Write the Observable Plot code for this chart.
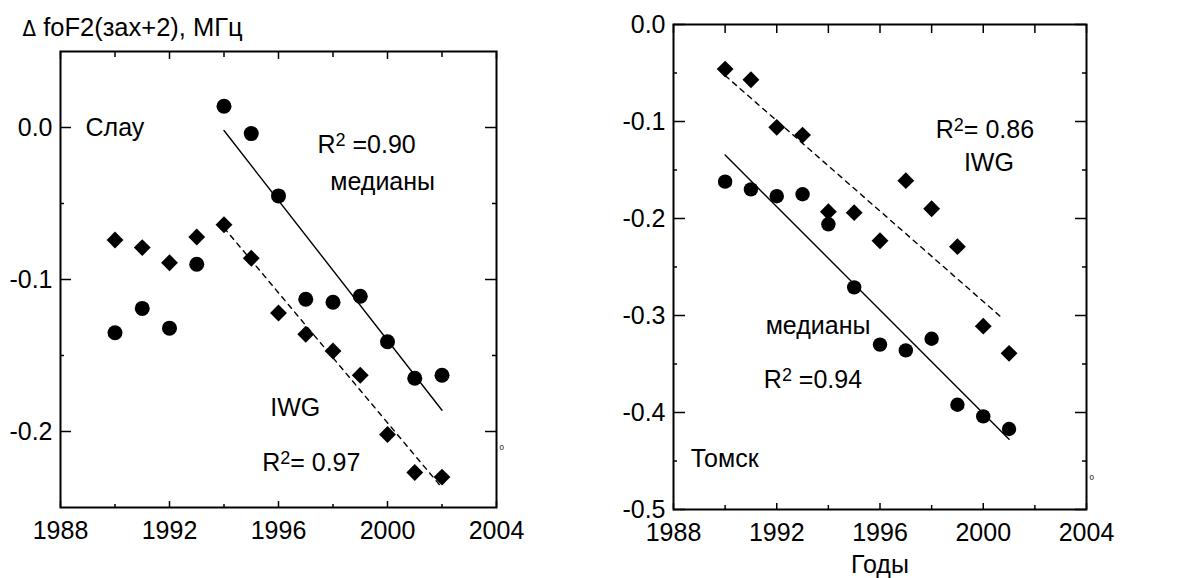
<!DOCTYPE html>
<html><head><meta charset="utf-8">
<script src="https://cdn.jsdelivr.net/npm/d3@7"></script>
<script src="https://cdn.jsdelivr.net/npm/@observablehq/plot@0.6"></script>
<style>
body{margin:0;background:#fff;}
#wrap{position:relative;width:1177px;height:578px;overflow:hidden;background:#fff;}
#wrap svg{position:absolute;top:0;}
</style></head><body><div id="wrap"></div>
<script>
// ---------- Data: Слау (Slough) ----------
const slouYears = [1990,1991,1992,1993,1994,1995,1996,1997,1998,1999,2000,2001,2002];
const slouMedian = [-0.135,-0.119,-0.132,-0.090,0.014,-0.004,-0.045,-0.113,-0.115,-0.111,-0.141,-0.165,-0.163];
const slouIWG = [-0.074,-0.079,-0.089,-0.072,-0.064,-0.086,-0.122,-0.136,-0.147,-0.163,-0.202,-0.227,-0.230];
const slouMedianFitYears = [1994, 2002];
const slouMedianFitValues = [-0.002, -0.186];
const slouIWGFitYears = [1994, 2002];
const slouIWGFitValues = [-0.066, -0.237];
const slouLabels = ["Слау", "R^2 =0.90", "медианы", "IWG", "R^2= 0.97"];
const slouLabelYears = [1988.92, 1997.43, 1997.9, 1995.7, 1995.4];
const slouLabelValues = [0.0, -0.0112, -0.0357, -0.1845, -0.2206];

// ---------- Data: Томск (Tomsk) ----------
const tomskYears = [1990,1991,1992,1993,1994,1995,1996,1997,1998,1999,2000,2001];
const tomskMedian = [-0.162,-0.170,-0.177,-0.175,-0.206,-0.271,-0.330,-0.336,-0.324,-0.392,-0.404,-0.417];
const tomskIWG = [-0.046,-0.057,-0.106,-0.114,-0.193,-0.194,-0.223,-0.161,-0.190,-0.229,-0.311,-0.339];
const tomskMedianFitYears = [1990, 2001];
const tomskMedianFitValues = [-0.1345, -0.4276];
const tomskIWGFitYears = [1990, 2000.75];
const tomskIWGFitValues = [-0.0526, -0.303];
const tomskLabels = ["R^2= 0.86", "IWG", "медианы", "R^2 =0.94", "Томск"];
const tomskLabelYears = [1998.16, 1999.25, 1991.57, 1991.5, 1988.67];
const tomskLabelValues = [-0.1091, -0.1424, -0.3109, -0.3660, -0.4475];

// ---------- Axis ticks ----------
const xMajorTicks = [1988, 1992, 1996, 2000, 2004];
const xMinorTicks = [1990, 1994, 1998, 2002];
const slouYMajor = [0, -0.1, -0.2];
const slouYMinor = [-0.05, -0.15];
const tomskYMajor = [0, -0.1, -0.2, -0.3, -0.4, -0.5];
const tomskYMinor = [-0.05, -0.15, -0.25, -0.35, -0.45];
const yAxisTitle = "\u0394 foF2(зах+2), МГц";
const xAxisTitle = "Годы";

const fmtY = d => (d < 0 ? "-" : "") + Math.abs(d).toFixed(1);
const fmtX = d => String(d);
const rows = (xs, vs) => xs.map((x, i) => ({year: x, value: vs[i]}));
const FONT = "'Liberation Sans', Arial, Helvetica, sans-serif";

function panel(o) {
  const W = o.width - o.ml - o.mr, H = o.height - o.mt - o.mb;
  const marks = [
    Plot.frame({stroke: "black", strokeWidth: 2}),
    // inward ticks
    Plot.tickY(o.yMajor, {y: d => d, insetRight: W - o.tl.yMajL, strokeWidth: 1.5}),
    Plot.tickY(o.yMinor, {y: d => d, insetRight: W - o.tl.yMinL, strokeWidth: 1.5}),
    Plot.tickY(o.yMajor, {y: d => d, insetLeft: W - o.tl.yMajR, strokeWidth: 1.5}),
    Plot.tickY(o.yMinor, {y: d => d, insetLeft: W - o.tl.yMinR, strokeWidth: 1.5}),
    Plot.tickX(xMajorTicks, {x: d => d, insetTop: H - o.tl.xMajB, strokeWidth: 1.5}),
    Plot.tickX(xMinorTicks, {x: d => d, insetTop: H - o.tl.xMinB, strokeWidth: 1.5}),
    Plot.tickX(xMajorTicks, {x: d => d, insetBottom: H - o.tl.xMajT, strokeWidth: 1.5}),
    Plot.tickX(xMinorTicks, {x: d => d, insetBottom: H - o.tl.xMinT, strokeWidth: 1.5}),
    Plot.axisY(o.yMajor, {tickSize: 0, tickPadding: 8, tickFormat: fmtY, fontSize: 25, label: null}),
    Plot.axisX(xMajorTicks, {tickSize: 0, tickPadding: 14, tickFormat: fmtX, fontSize: 25, label: null}),
    // fit lines
    Plot.line(o.medFit, {x: "year", y: "value", stroke: "black", strokeWidth: 1.4}),
    Plot.line(o.iwgFit, {x: "year", y: "value", stroke: "black", strokeWidth: 1.4, strokeDasharray: "5,5"}),
    // points
    Plot.dot(o.med, {x: "year", y: "value", r: o.rc, symbol: "circle", fill: "black"}),
    Plot.dot(o.iwg, {x: "year", y: "value", r: 7.6, symbol: "diamond2", fill: "black"}),
    // annotations
    Plot.text(o.labels, {x: (d, i) => o.labelX[i], y: (d, i) => o.labelY[i], text: d => d, textAnchor: "start", lineAnchor: "middle", fontSize: 25, fill: "black"}),
    Plot.text(["0"], {x: () => 2004, y: () => o.zeroY, dx: 3, textAnchor: "start", lineAnchor: "middle", fontSize: 8, fill: "black"})
  ];
  if (o.extra) marks.push(...o.extra);
  return Plot.plot({
    width: o.width, height: o.height,
    marginLeft: o.ml, marginRight: o.mr, marginTop: o.mt, marginBottom: o.mb,
    x: {domain: [1988, 2004]},
    y: {domain: o.yDomain},
    style: {fontFamily: FONT, fontSize: "25px", background: "white", color: "black", overflow: "visible"},
    marks
  });
}

function fixText(svg) {
  const ns = "http://www.w3.org/2000/svg";
  svg.querySelectorAll("text").forEach(t => {
    const s = t.textContent;
    if (s.includes("^2")) {
      const [a, b] = s.split("^2");
      t.textContent = "";
      const t1 = document.createElementNS(ns, "tspan"); t1.textContent = a;
      const t2 = document.createElementNS(ns, "tspan"); t2.textContent = "2";
      t2.style.fontSize = "18px"; t2.setAttribute("dy", "-7");
      const t3 = document.createElementNS(ns, "tspan"); t3.textContent = b; t3.setAttribute("dy", "7");
      t.append(t1, t2, t3);
    } else if (s.startsWith("\u0394")) {
      t.textContent = "";
      const t1 = document.createElementNS(ns, "tspan"); t1.textContent = "\u0394";
      t1.style.fontSize = "22px"; t1.style.fontFamily = "'DejaVu Sans Condensed', 'Liberation Sans', sans-serif";
      const t2 = document.createElementNS(ns, "tspan"); t2.textContent = s.slice(1);
      t.append(t1, t2);
    }
  });
}

const left = panel({
  width: 560, height: 578, ml: 60, mr: 64, mt: 51, mb: 71,
  yDomain: [-0.25, 0.05], yMajor: slouYMajor, yMinor: slouYMinor,
  tl: {yMajL: 11, yMinL: 4, yMajR: 11, yMinR: 4, xMajB: 6, xMinB: 3, xMajT: 8, xMinT: 6},
  med: rows(slouYears, slouMedian), iwg: rows(slouYears, slouIWG),
  medFit: rows(slouMedianFitYears, slouMedianFitValues), iwgFit: rows(slouIWGFitYears, slouIWGFitValues),
  labels: slouLabels, labelX: slouLabelYears, labelY: slouLabelValues, zeroY: -0.2104, rc: 7.5,
  extra: [Plot.text([yAxisTitle], {frameAnchor: "top-left", dx: -38, dy: -24, textAnchor: "start", lineAnchor: "middle", fontSize: 25.5, fill: "black"})]
});
left.style.left = "0px";

const right = panel({
  width: 597, height: 578, ml: 93, mr: 91, mt: 24, mb: 69,
  yDomain: [-0.5, 0], yMajor: tomskYMajor, yMinor: tomskYMinor,
  tl: {yMajL: 12, yMinL: 4, yMajR: 11, yMinR: 4, xMajB: 6, xMinB: 4, xMajT: 9, xMinT: 9},
  med: rows(tomskYears, tomskMedian), iwg: rows(tomskYears, tomskIWG),
  medFit: rows(tomskMedianFitYears, tomskMedianFitValues), iwgFit: rows(tomskIWGFitYears, tomskIWGFitValues),
  labels: tomskLabels, labelX: tomskLabelYears, labelY: tomskLabelValues, zeroY: -0.4665, rc: 7.2,
  extra: [Plot.text([xAxisTitle], {frameAnchor: "bottom", dy: 55, lineAnchor: "middle", fontSize: 25, fill: "black"})]
});
right.style.left = "580px";

const wrap = document.getElementById("wrap");
wrap.append(left, right);
fixText(left); fixText(right);
</script></body></html>
